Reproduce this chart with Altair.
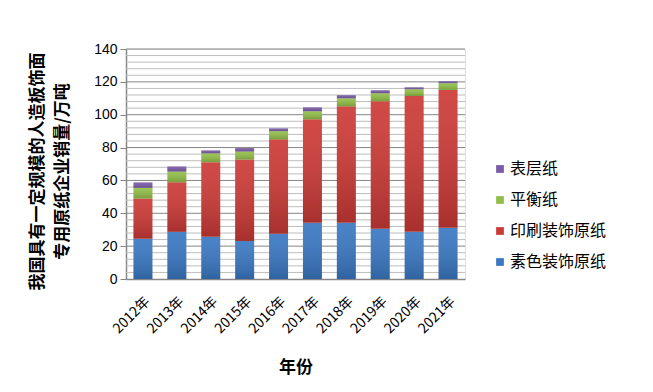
import altair as alt
import pandas as pd

years = ["2012年", "2013年", "2014年", "2015年", "2016年", "2017年", "2018年", "2019年", "2020年", "2021年"]
series = ["素色装饰原纸", "印刷装饰原纸", "平衡纸", "表层纸"]
plain = [24.5, 28.7, 25.7, 23.2, 27.5, 34.2, 34.2, 30.6, 28.7, 31.2]
printed = [24.5, 30.2, 45.4, 49.5, 57.5, 63.0, 70.9, 77.6, 82.7, 83.9]
balance = [6.5, 6.5, 5.4, 4.9, 5.0, 4.9, 4.9, 4.9, 4.1, 4.1]
surface = [3.3, 3.1, 1.8, 2.1, 1.7, 2.4, 1.9, 1.8, 1.2, 1.2]
colors = ["#3a78c3", "#cc3a36", "#92bf48", "#7a5ca6"]
major_ticks = [0, 20, 40, 60, 80, 100, 120, 140]
minor_ticks = [v for v in range(0, 141, 4) if v % 20 != 0]

rows = []
for vals, s, o in zip([plain, printed, balance, surface], series, range(4)):
    for y, v in zip(years, vals):
        rows.append({"year": y, "series": s, "value": v, "ord": o})
df = pd.DataFrame(rows)

font_num = "Liberation Sans"
font_cjk = "Noto Sans CJK SC"

yscale = alt.Scale(domain=[0, 140], nice=False)
yaxis = alt.Axis(values=major_ticks, labelOverlap=False,
                 labelFont=font_num, labelFontSize=14, labelColor="#000", labelPadding=3,
                 tickSize=6, tickColor="#868686", grid=False,
                 domainColor="#868686", domainWidth=1.5,
                 title=["我国具有一定规模的人造板饰面", "专用原纸企业销量/万吨"],
                 titleFont=font_cjk, titleFontSize=17, titleFontWeight="bold", titleColor="#000",
                 titleAngle=-90, titleBaseline="top", titleAlign="center",
                 titleX=-97, titleY=122, titleLineHeight=25)

minor = alt.Chart(pd.DataFrame({"v": minor_ticks})).mark_rule(color="#bdbdbd", strokeWidth=1).encode(
    y=alt.Y("v:Q", scale=yscale, axis=yaxis))
major = alt.Chart(pd.DataFrame({"v": major_ticks[1:]})).mark_rule(color="#858585", strokeWidth=1).encode(
    y=alt.Y("v:Q", scale=yscale, axis=yaxis))

base = alt.Chart(df).transform_stack(
    stack="value", groupby=["year"], as_=["y0", "y1"], sort=[alt.SortField("ord", order="ascending")]
)

xenc = alt.X("year:N", sort=years,
             scale=alt.Scale(paddingInner=0.44, paddingOuter=0.22),
             axis=alt.Axis(title="年份", labelAngle=-45, labelFont=font_cjk, labelFontSize=14,
                           labelColor="#000", titleFont=font_cjk, titleFontSize=17, titleFontWeight="bold",
                           titleColor="#000", ticks=False, domainColor="#868686", domainWidth=1.5,
                           labelPadding=15, titlePadding=24, grid=False))

bars = base.mark_bar().encode(
    x=xenc,
    y=alt.Y("y0:Q", scale=yscale, axis=yaxis),
    y2="y1:Q",
    color=alt.Color("series:N", scale=alt.Scale(domain=series, range=colors),
                    sort=series,
                    legend=alt.Legend(title=None, orient="none", legendX=366, legendY=112,
                                      symbolType="square", symbolSize=60, symbolStrokeWidth=0,
                                      labelFont=font_cjk, labelFontSize=16, labelColor="#000",
                                      labelOffset=2,
                                      rowPadding=15, direction="vertical", values=series[::-1])),
)

shade = base.mark_bar(fill={
    "x1": 0, "y1": 0, "x2": 0, "y2": 1, "gradient": "linear",
    "stops": [{"offset": 0, "color": "rgba(255,255,255,0.08)"},
              {"offset": 1, "color": "rgba(0,0,0,0.18)"}]
}).encode(x=xenc, y=alt.Y("y0:Q", scale=yscale, axis=yaxis), y2="y1:Q", detail="series:N")

chart = alt.layer(minor, major, bars, shade).resolve_scale(y="shared").properties(
    width=339, height=230,
    autosize=alt.AutoSizeParams(type="none"),
    padding={"left": 118, "top": 41, "right": 180, "bottom": 105},
).configure_view(stroke=None).configure(background="#ffffff")

chart.save("out.html", embed_options={"renderer": "svg", "actions": False})
